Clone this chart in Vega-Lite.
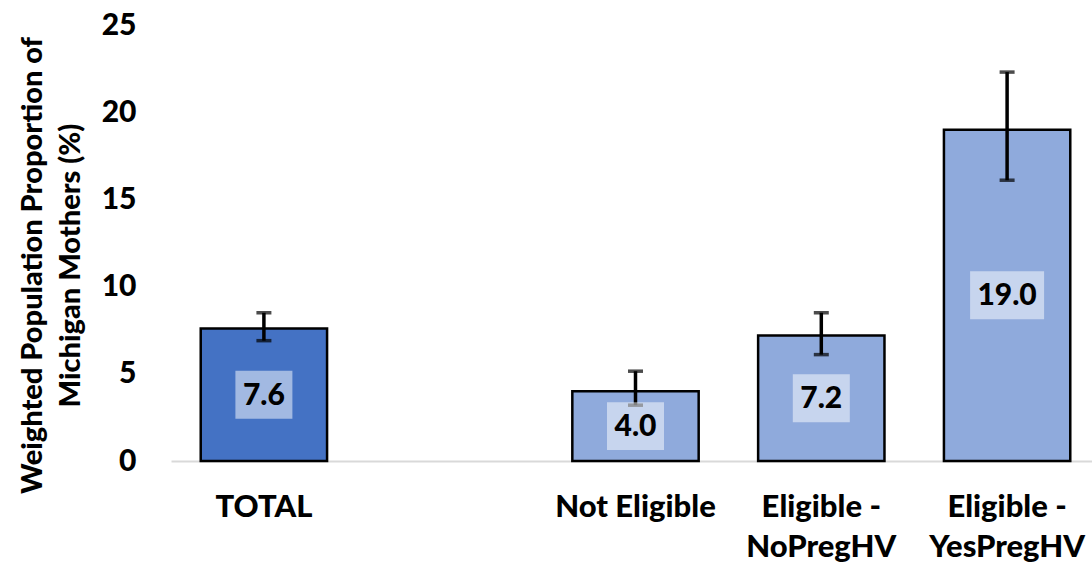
{
  "$schema": "https://vega.github.io/schema/vega-lite/v6.json",
  "autosize": {"type": "none"},
  "width": 921,
  "height": 436,
  "padding": {"left": 171, "top": 25, "right": 0, "bottom": 101},
  "background": "white",
  "config": {
    "view": {"stroke": null},
    "font": "Lato",
    "axis": {"labelFont": "Lato", "titleFont": "Lato"}
  },
  "data": {
    "values": [
      {"group": "TOTAL", "value": 7.6, "low": 6.9, "high": 8.5, "label": "7.6", "kind": "total"},
      {"group": "Not Eligible", "value": 4.0, "low": 3.2, "high": 5.15, "label": "4.0", "kind": "sub"},
      {"group": "Eligible - NoPregHV", "value": 7.2, "low": 6.1, "high": 8.5, "label": "7.2", "kind": "sub"},
      {"group": "Eligible - YesPregHV", "value": 19.0, "low": 16.1, "high": 22.3, "label": "19.0", "kind": "sub"}
    ]
  },
  "encoding": {
    "x": {
      "field": "group",
      "type": "nominal",
      "sort": null,
      "scale": {
        "domain": ["TOTAL", " ", "Not Eligible", "Eligible - NoPregHV", "Eligible - YesPregHV"],
        "range": [0, 929],
        "paddingInner": 0.32,
        "paddingOuter": 0.16
      },
      "axis": {
        "title": null,
        "labelAngle": 0,
        "labelFontSize": 31,
        "labelFontWeight": 900,
        "labelColor": "black",
        "labelPadding": 31,
        "labelBaseline": "top",
        "labelLineHeight": 40,
        "labelExpr": "datum.label == 'Eligible - NoPregHV' ? ['Eligible -', 'NoPregHV'] : datum.label == 'Eligible - YesPregHV' ? ['Eligible -', 'YesPregHV'] : datum.label",
        "ticks": false,
        "domainColor": "#d9d9d9",
        "domainWidth": 2,
        "grid": false
      }
    }
  },
  "layer": [
    {
      "mark": {"type": "bar", "stroke": "black", "strokeWidth": 2.5},
      "encoding": {
        "y": {
          "field": "value",
          "type": "quantitative",
          "scale": {"domain": [0, 25], "nice": false},
          "axis": {
            "values": [0, 5, 10, 15, 20, 25],
            "title": ["Weighted Population Proportion of", "Michigan Mothers (%)"],
            "titleFontSize": 29,
            "titleFontWeight": 900,
            "titleColor": "black",
            "titleLineHeight": 38,
            "titlePadding": 16,
            "titleY": 240,
            "labelFontSize": 30,
            "labelFontWeight": 900,
            "labelColor": "black",
            "labelPadding": 35,
            "ticks": false,
            "domain": false,
            "grid": false
          }
        },
        "color": {
          "field": "kind",
          "type": "nominal",
          "scale": {"domain": ["total", "sub"], "range": ["#4472C4", "#8FAADC"]},
          "legend": null
        }
      }
    },
    {
      "mark": {"type": "rule", "color": "black", "strokeWidth": 3.5},
      "encoding": {
        "y": {"field": "low", "type": "quantitative"},
        "y2": {"field": "high"}
      }
    },
    {
      "mark": {"type": "tick", "color": "black", "thickness": 3.5, "size": 15},
      "encoding": {"y": {"field": "low", "type": "quantitative"}}
    },
    {
      "mark": {"type": "tick", "color": "black", "thickness": 3.5, "size": 15},
      "encoding": {"y": {"field": "high", "type": "quantitative"}}
    },
    {
      "transform": [{"calculate": "datum.value / 2", "as": "mid"}],
      "mark": {"type": "point", "filled": true, "color": "white", "opacity": 0.5, "strokeWidth": 0},
      "encoding": {
        "y": {"field": "mid", "type": "quantitative"},
        "shape": {
          "condition": {"test": "length(datum.label) > 3", "value": "M-1,-0.65L1,-0.65L1,0.65L-1,0.65Z"},
          "value": "M-1,-0.84L1,-0.84L1,0.84L-1,0.84Z"
        },
        "size": {
          "condition": {"test": "length(datum.label) > 3", "value": 5476},
          "value": 3249
        }
      }
    },
    {
      "transform": [{"calculate": "datum.value / 2", "as": "mid"}],
      "mark": {"type": "text", "fontSize": 30, "fontWeight": 900, "color": "black", "baseline": "middle", "dy": 1},
      "encoding": {
        "y": {"field": "mid", "type": "quantitative"},
        "text": {"field": "label"}
      }
    }
  ]
}
